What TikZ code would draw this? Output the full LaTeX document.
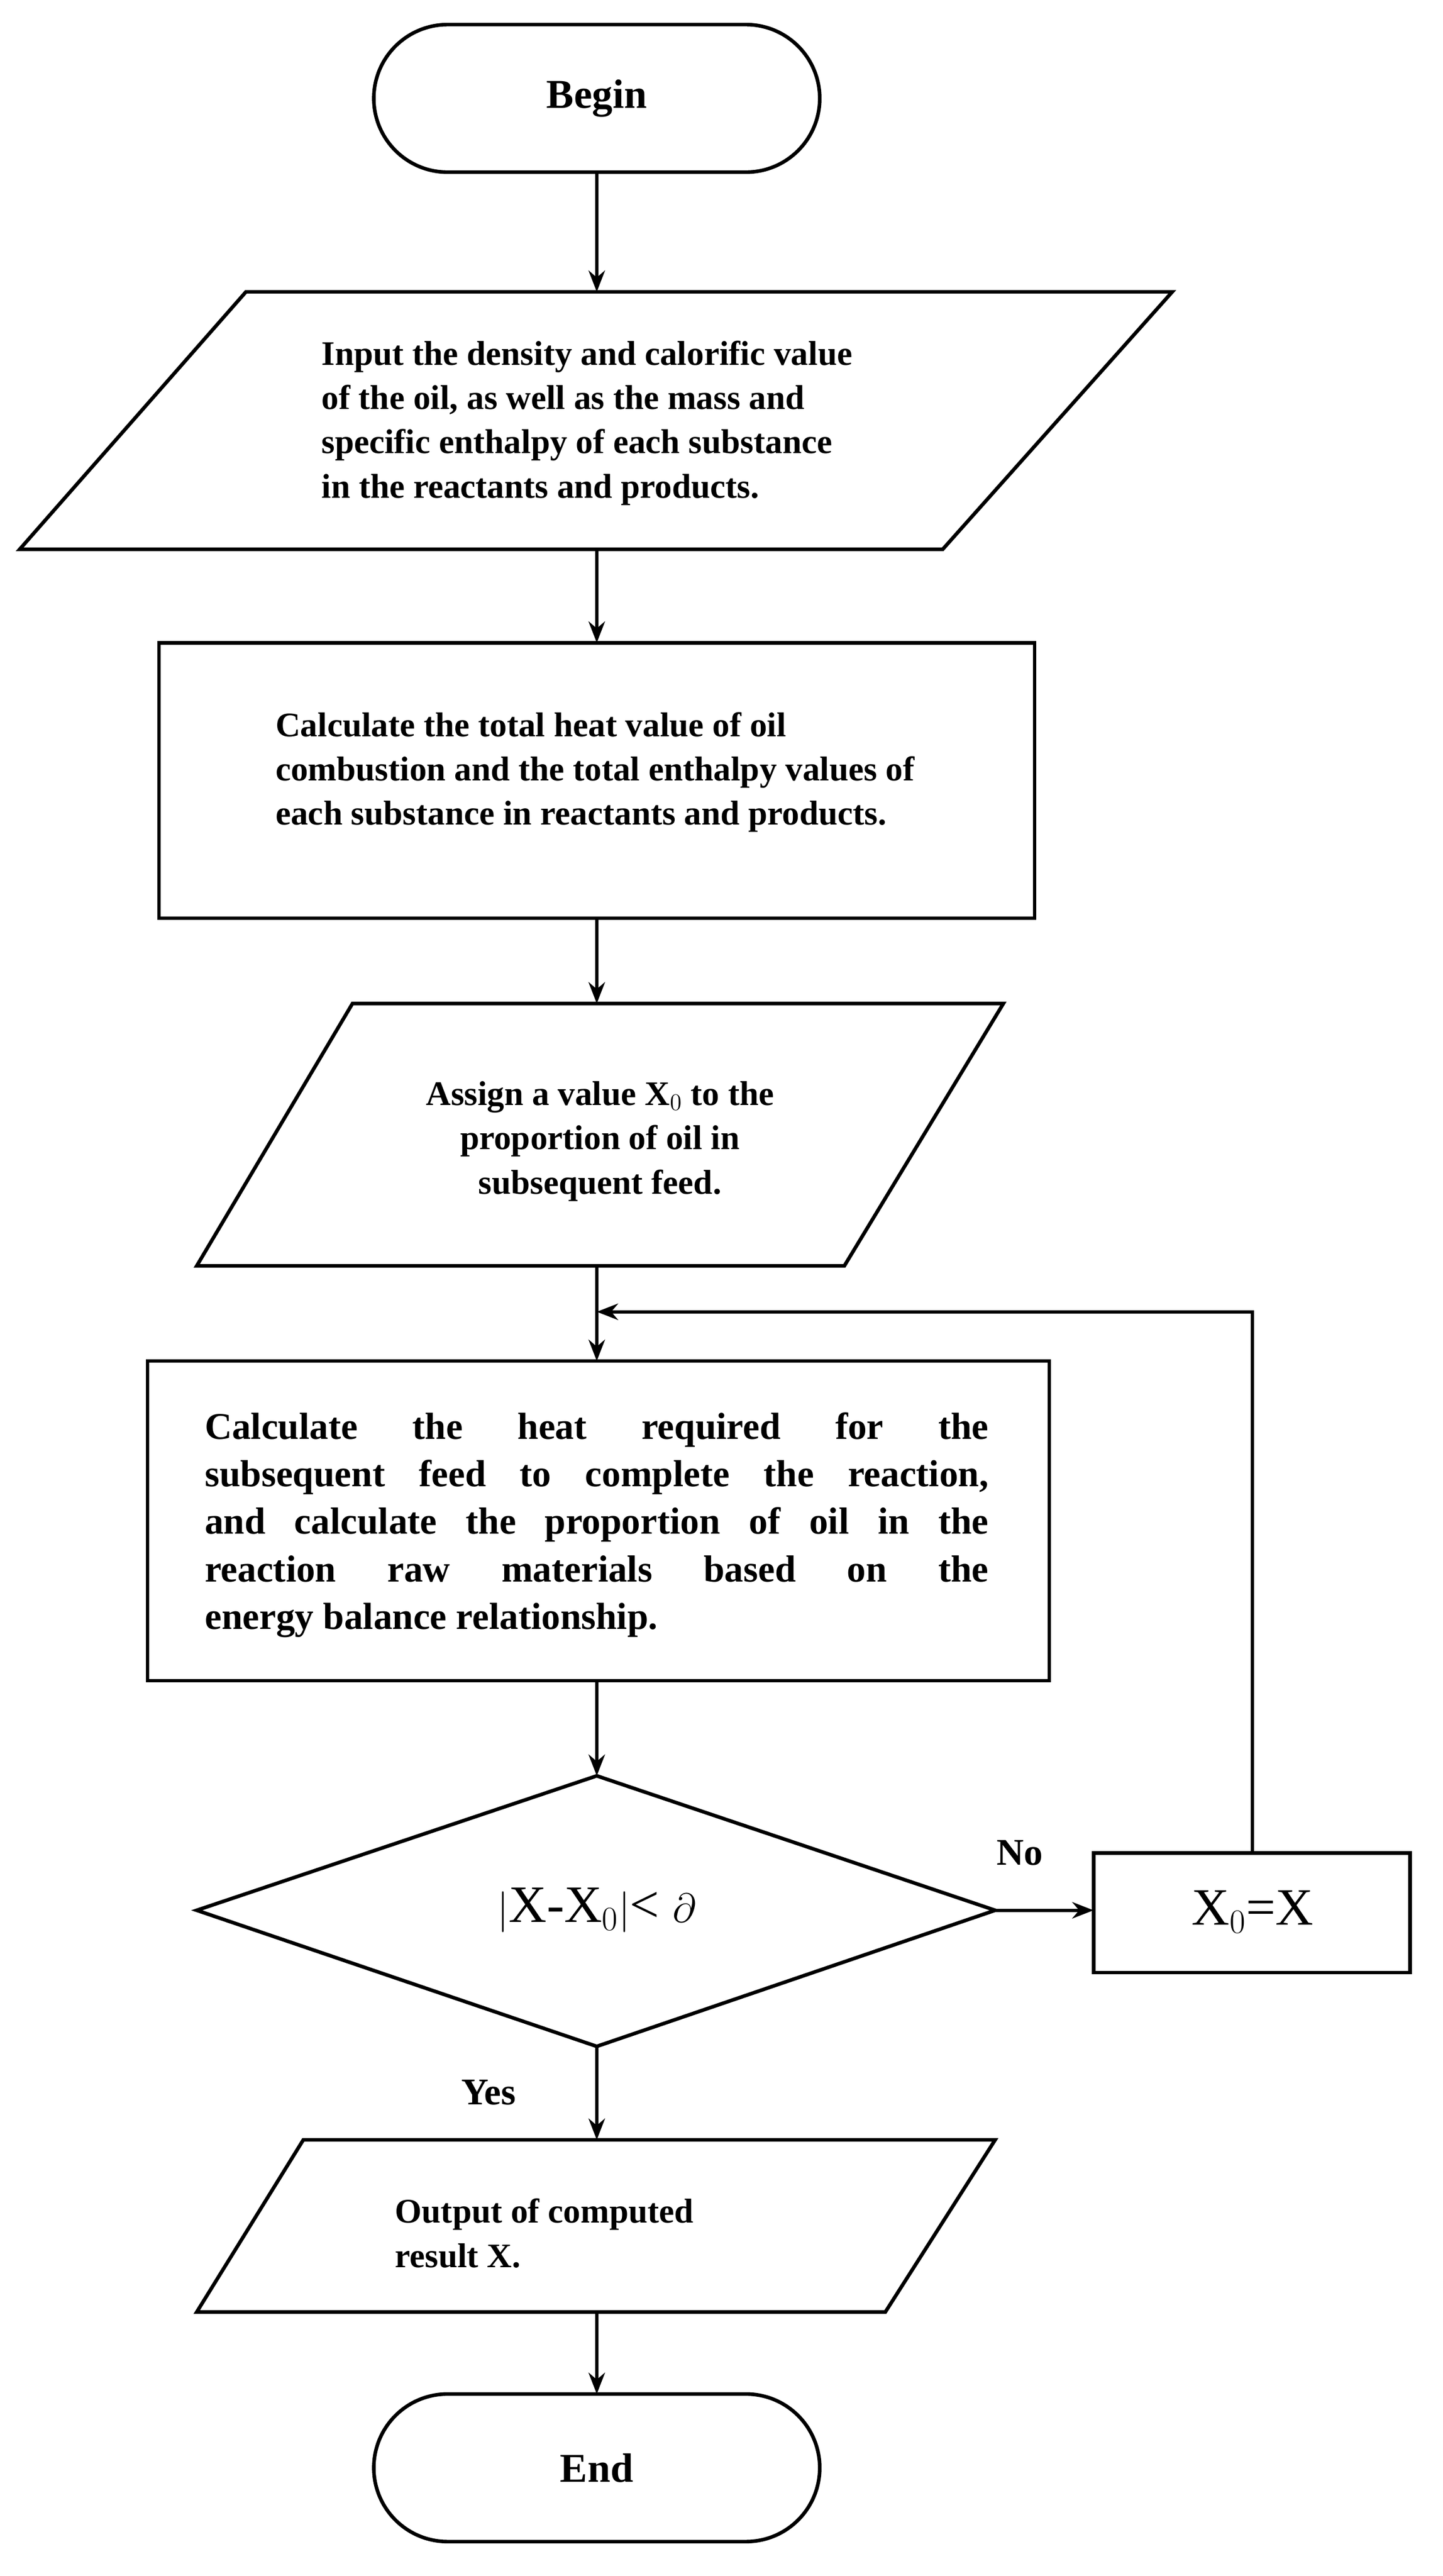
\documentclass[tikz,border=0pt]{standalone}
\usepackage{fontspec}
\setmainfont{Liberation Serif}
\usetikzlibrary{arrows.meta}
\begin{document}
\begin{tikzpicture}[x=1pt,y=-1pt,
  box/.style={draw,line width=2.2pt},
  txt/.style={font=\bfseries\fontsize{21}{27}\selectfont,align=left},
  arr/.style={line width=2pt,-{Stealth[length=13pt,width=10pt]}}]
\useasboundingbox[fill=white] (0,0) rectangle (880,1571);
% Begin
\draw[box,rounded corners=45pt] (228,15) rectangle (500,105);
\node[font=\bfseries\fontsize{25}{28}\selectfont] (begin) at (364,60) {Begin};
\coordinate (b1) at (364,105);
% para 1
\draw[box] (150,178) -- (715,178) -- (575,335) -- (12,335) -- cycle;
\node[txt] (in) at (358,258) {Input the density and calorific value\\of the oil, as well as the mass and\\specific enthalpy of each substance\\in the reactants and products.};
\coordinate (p1t) at (364,178); \coordinate (p1b) at (364,335);
% rect 2
\draw[box] (97,392) rectangle (631,560);
\node[txt] (calc) at (363,471) {Calculate the total heat value of oil\\combustion and the total enthalpy values of\\each substance in reactants and products.};
\coordinate (r2t) at (364,392); \coordinate (r2b) at (364,560);
% para 3
\draw[box] (215,612) -- (612,612) -- (515,772) -- (120,772) -- cycle;
\node[txt,align=center] (assign) at (366,696) {Assign a value X$_0$ to the\\proportion of oil in\\subsequent feed.};
\coordinate (p3t) at (364,612); \coordinate (p3b) at (364,772);
% rect 4
\draw[box] (90,830) rectangle (640,1025);
\node[txt,font=\bfseries\fontsize{23}{29}\selectfont,align=justify,text width=478pt] (heat) at (364,930) {\hyphenpenalty=10000 Calculate the heat required for the\linebreak subsequent feed to complete the reaction,\linebreak and calculate the proportion of oil in the\linebreak reaction raw materials based on the\linebreak energy balance relationship.};
\coordinate (r4t) at (364,830); \coordinate (r4b) at (364,1025);
\coordinate (loopin) at (364,800);
% diamond
\draw[box] (364,1083) -- (607,1165) -- (364,1248) -- (120,1165) -- cycle;
\node[font=\fontsize{32}{36}\selectfont] (cond) at (364,1165) {$|$X-X$_0$$|$< $\partial$};
\coordinate (dt) at (364,1083); \coordinate (db) at (364,1248); \coordinate (dr) at (607,1165);
% X0=X
\draw[box] (667,1130) rectangle (860,1203);
\node[font=\fontsize{32}{36}\selectfont] (upd) at (764,1166) {X$_0$=X};
\coordinate (ul) at (667,1165); \coordinate (ut) at (764,1130);
% output
\draw[box] (185,1305) -- (607,1305) -- (540,1410) -- (120,1410) -- cycle;
\node[txt,align=justify,text width=250pt] (out) at (366,1362) {Output of computed\\result X.};
\coordinate (ot) at (364,1305); \coordinate (ob) at (364,1410);
% End
\draw[box,rounded corners=45pt] (228,1460) rectangle (500,1550);
\node[font=\bfseries\fontsize{25}{28}\selectfont] (end) at (364,1505) {End};
\coordinate (et) at (364,1460);
% arrows
\draw[arr] (b1) -- (p1t);
\draw[arr] (p1b) -- (r2t);
\draw[arr] (r2b) -- (p3t);
\draw[arr] (p3b) -- (r4t);
\draw[arr] (r4b) -- (dt);
\draw[arr] (dr) -- (ul);
\draw[arr] (ut) |- (loopin);
\draw[arr] (db) -- (ot);
\draw[arr] (ob) -- (et);
\node[font=\bfseries\fontsize{23}{26}\selectfont] (no) at (622,1130) {No};
\node[font=\bfseries\fontsize{23}{26}\selectfont] (yes) at (298,1276) {Yes};
\end{tikzpicture}
\end{document}
